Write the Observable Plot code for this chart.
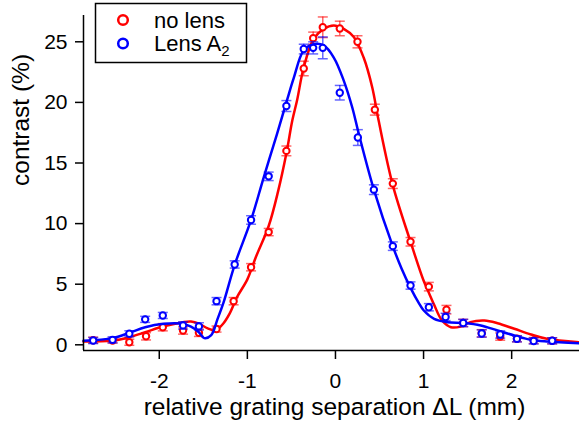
<!DOCTYPE html>
<html><head><meta charset="utf-8">
<script src="https://cdn.jsdelivr.net/npm/d3@7"></script>
<script src="https://cdn.jsdelivr.net/npm/@observablehq/plot@0.6"></script>
<style>
body{margin:0;background:#fff;}
#wrap{position:relative;width:579px;height:425px;font-family:"Liberation Sans",Arial,Helvetica,sans-serif;}
#legend{position:absolute;left:0;top:0;}
</style></head><body><div id="wrap"></div>
<script>
// ---- data ----
const noLensX   = [-2.75,-2.53,-2.34,-2.15,-1.96,-1.73,-1.55,-1.35,-1.156,-0.958,-0.758,-0.557,-0.36,-0.253,-0.144,0.049,0.25,0.447,0.651,0.852,1.06,1.26,1.45,1.66,1.87,2.06,2.25,2.46];
const noLensY   = [0.38,0.35,0.21,0.70,1.45,1.18,0.99,1.30,3.6,6.4,9.3,16.0,22.8,25.3,26.2,26.1,25.0,19.4,13.3,8.5,4.8,2.9,1.8,0.95,0.68,0.5,0.35,0.33];
const noLensErr = [0.25,0.2,0.25,0.3,0.3,0.3,0.3,0.25,0.3,0.3,0.3,0.4,0.6,0.5,0.85,0.6,0.5,0.45,0.4,0.35,0.35,0.35,0.3,0.3,0.3,0.25,0.25,0.25];

const lensX   = [-2.75,-2.53,-2.34,-2.16,-1.96,-1.73,-1.55,-1.35,-1.144,-0.958,-0.758,-0.557,-0.36,-0.253,-0.144,0.049,0.254,0.436,0.651,0.852,1.06,1.25,1.45,1.66,1.87,2.06,2.25,2.46];
const lensY   = [0.35,0.41,0.91,2.1,2.42,1.6,1.52,3.6,6.63,10.3,13.9,19.7,24.4,24.5,24.5,20.8,17.1,12.8,8.14,4.89,3.1,2.3,1.8,0.93,0.85,0.49,0.32,0.33];
const lensErr = [0.25,0.25,0.25,0.25,0.25,0.3,0.3,0.3,0.3,0.35,0.35,0.45,0.4,0.5,0.9,0.6,0.65,0.4,0.35,0.3,0.3,0.3,0.3,0.3,0.3,0.25,0.25,0.25];

const noLensFitX = [-2.86,-2.53,-2.34,-2.16,-1.95,-1.73,-1.64,-1.55,-1.45,-1.36,-1.28,-1.2,-1.12,-1.0,-0.9,-0.758,-0.65,-0.557,-0.49,-0.435,-0.36,-0.247,-0.133,-0.019,0.094,0.208,0.32,0.417,0.49,0.65,0.852,1.0,1.06,1.12,1.21,1.31,1.42,1.53,1.69,1.84,2.03,2.22,2.4,2.77];
const noLensFitY = [0.27,0.35,0.63,1.04,1.53,1.87,1.92,1.75,1.35,1.2,1.7,2.6,3.9,5.4,7.3,9.8,12.7,15.8,18.5,20.2,22.9,25.25,26.07,26.35,26.07,25.4,23.7,21.25,18.5,13.2,8.5,5.3,4.3,3.3,2.0,1.45,1.5,1.87,2.0,1.78,1.32,0.85,0.5,0.21];

const lensFitX = [-2.86,-2.53,-2.34,-2.16,-1.95,-1.76,-1.64,-1.55,-1.49,-1.41,-1.34,-1.27,-1.144,-0.958,-0.815,-0.663,-0.549,-0.474,-0.36,-0.247,-0.133,-0.019,0.094,0.19,0.265,0.436,0.65,0.75,0.852,0.95,1.0,1.12,1.27,1.46,1.65,1.84,2.03,2.22,2.4,2.77];
const lensFitY = [0.33,0.55,0.99,1.45,1.73,1.75,1.5,1.04,0.55,0.8,2.1,3.5,6.6,10.3,13.8,17.4,20.2,22.0,24.3,24.8,24.7,23.7,21.8,19.6,17.4,12.8,8.14,6.3,4.7,3.4,2.85,2.14,1.87,1.8,1.6,1.18,0.77,0.41,0.27,0.13];

const xTicks = [-2,-1,0,1,2];
const yTicks = [0,5,10,15,20,25];
const xDomain = [-2.86, 2.77];
const yDomain = [-0.47, 27.17];

const seriesLabels = ["no lens", "Lens A"];
const RED = "#ff0000", BLUE = "#0000ff";

// ---- build tables ----
const pts = (X, Y, E) => X.map((x, i) => ({x, y: Y[i], e: E[i]}));
const fit = (X, Y) => X.map((x, i) => ({x, y: Y[i]}));
const red = pts(noLensX, noLensY, noLensErr);
const blue = pts(lensX, lensY, lensErr);
const redFit = fit(noLensFitX, noLensFitY);
const blueFit = fit(lensFitX, lensFitY);

const cap = {draw(ctx, size){ const w = Math.sqrt(size / Math.PI); ctx.moveTo(-w, 0); ctx.lineTo(w, 0); }};

function seriesMarks(data, fitData, color) {
  return [
    Plot.line(fitData, {x: "x", y: "y", stroke: color, strokeWidth: 2.5, curve: "catmull-rom"}),
    Plot.ruleX(data, {x: "x", y1: d => d.y - d.e, y2: d => d.y + d.e, stroke: color, strokeOpacity: 0.6, strokeWidth: 1.5}),
    Plot.dot(data, {x: "x", y: d => d.y + d.e, symbol: cap, r: 5, stroke: color, strokeOpacity: 0.6, strokeWidth: 1.5, fill: "none"}),
    Plot.dot(data, {x: "x", y: d => d.y - d.e, symbol: cap, r: 5, stroke: color, strokeOpacity: 0.6, strokeWidth: 1.5, fill: "none"}),
    Plot.dot(data, {x: "x", y: "y", r: 3.2, stroke: color, strokeWidth: 2, fill: "white"})
  ];
}

const chart = Plot.plot({
  width: 579, height: 425,
  marginLeft: 83, marginRight: 0, marginTop: 15, marginBottom: 75,
  style: {fontFamily: '"Liberation Sans", Arial, Helvetica, sans-serif', background: "white", color: "black"},
  x: {domain: xDomain},
  y: {domain: yDomain},
  marks: [
    ...seriesMarks(red, redFit, RED),
    ...seriesMarks(blue, blueFit, BLUE),
    Plot.ruleX([xDomain[0]], {stroke: "black", strokeWidth: 1.5}),
    Plot.ruleY([yDomain[0]], {stroke: "black", strokeWidth: 1.5}),
    Plot.axisY({ticks: yTicks, tickSize: 8, tickPadding: 8, fontSize: 21, label: null, strokeWidth: 1.5}),
    Plot.axisX({ticks: xTicks, tickSize: 9, tickPadding: 14, fontSize: 21, label: null, strokeWidth: 1.5, tickFormat: d => String(d)}),
    Plot.text(["relative grating separation ΔL (mm)"], {frameAnchor: "bottom", lineAnchor: "bottom", dy: 64, dx: 3, fontSize: 24.5, fill: "black"}),
    Plot.text(["contrast (%)"], {frameAnchor: "left", lineAnchor: "bottom", rotate: -90, dx: -55, dy: 3, fontSize: 24.5, fill: "black"})
  ]
});
document.getElementById("wrap").appendChild(chart);

// ---- legend ----
const ns = "http://www.w3.org/2000/svg";
const lg = document.createElementNS(ns, "svg");
lg.setAttribute("id", "legend"); lg.setAttribute("width", 260); lg.setAttribute("height", 70);
lg.innerHTML = `
  <rect x="95.5" y="3.5" width="151" height="59" fill="white" stroke="black" stroke-width="1.5"/>
  <circle cx="123" cy="20" r="4.8" fill="none" stroke="${RED}" stroke-width="2.5"/>
  <circle cx="123" cy="43.5" r="4.8" fill="none" stroke="${BLUE}" stroke-width="2.5"/>
  <text x="154" y="27.5" font-size="22" font-family='"Liberation Sans", Arial, sans-serif'>${seriesLabels[0]}</text>
  <text x="154" y="51" font-size="22" font-family='"Liberation Sans", Arial, sans-serif'>${seriesLabels[1]}<tspan dy="5" font-size="15">2</tspan></text>`;
document.getElementById("wrap").appendChild(lg);
</script></body></html>
